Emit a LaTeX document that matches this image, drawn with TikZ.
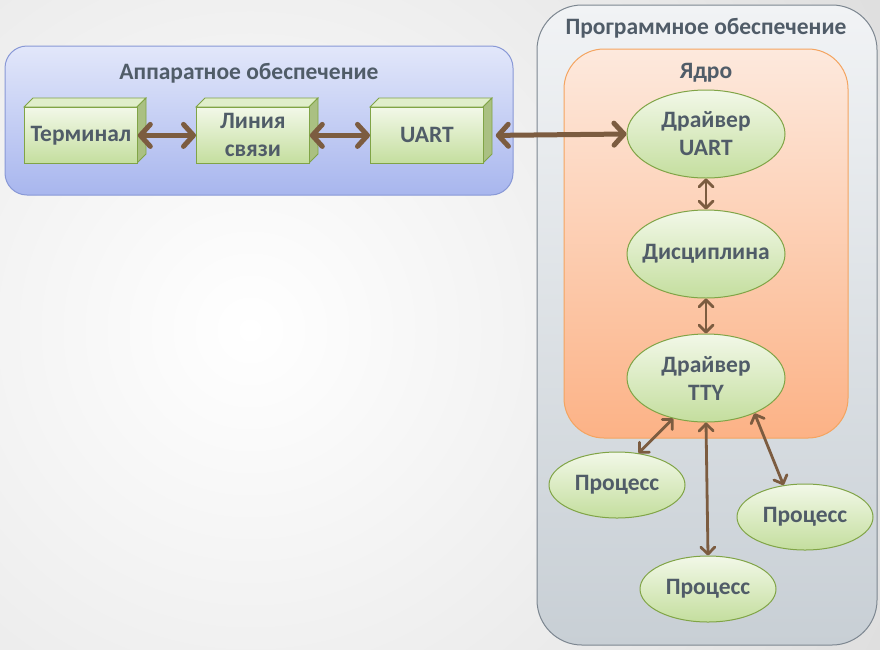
\documentclass[tikz,border=0pt]{standalone}
\usepackage{fontspec}
\setmainfont{Carlito}
\usetikzlibrary{shapes.geometric,arrows.meta}
\definecolor{txt}{RGB}{80,92,104}
\definecolor{arr}{RGB}{124,92,64}
\definecolor{bggray}{RGB}{205,205,205}
\definecolor{hwtop}{RGB}{226,231,250}
\definecolor{hwbot}{RGB}{168,182,238}
\definecolor{hwline}{RGB}{136,152,214}
\definecolor{swtop}{RGB}{241,243,245}
\definecolor{swbot}{RGB}{200,207,213}
\definecolor{swline}{RGB}{124,134,144}
\definecolor{ktop}{RGB}{253,233,221}
\definecolor{kbot}{RGB}{252,178,134}
\definecolor{kline}{RGB}{244,164,96}
\definecolor{gtop}{RGB}{242,248,232}
\definecolor{gbot}{RGB}{196,222,158}
\definecolor{gline}{RGB}{128,164,70}
\definecolor{gface}{RGB}{224,238,202}
\definecolor{gside}{RGB}{170,192,130}
\tikzset{
  title/.style={text=txt},
  cubefront/.style={draw=gline, line width=0.8, top color=gtop, bottom color=gbot,
    text=txt, align=center, inner sep=0, minimum width=113, minimum height=56},
  oval/.style={ellipse, draw=gline, line width=1, top color=gtop, bottom color=gbot,
    text=txt, align=center, inner sep=0, minimum width=158, minimum height=88},
  proc/.style={oval, minimum width=136, minimum height=66},
  bigarr/.style={draw=arr, line width=5, {Straight Barb[round,length=10pt,width=22pt]}-{Straight Barb[round,length=10pt,width=22pt]}},
  smallarr/.style={draw=arr, line width=2.8, {Straight Barb[round,length=7pt,width=14pt]}-{Straight Barb[round,length=7pt,width=14pt]}}
}
\newcommand{\hwcube}[4]{
  \filldraw[draw=gline, line width=0.8, fill=gface] (#2,#3)--++(9,-9)--++(113,0)--++(-9,9)--cycle;
  \filldraw[draw=gline, line width=0.8, fill=gside] (#2+113,#3)--++(9,-9)--++(0,56)--++(-9,9)--cycle;
  \node[cubefront, anchor=north west] (#1) at (#2,#3) {#4};
}
\begin{document}
\begin{tikzpicture}[x=1pt, y=-1pt, font=\fontsize{23.5}{28}\selectfont\bfseries]
\useasboundingbox (0,0) rectangle (880,649);
\begin{scope}
  \clip (0,0) rectangle (880,649);
  \shade[inner color=white, outer color=bggray] (250,330) circle (1100);
\end{scope}
\draw[draw=hwline, line width=1, top color=hwtop, bottom color=hwbot, rounded corners=22] (5,46) rectangle (513,195);
\draw[draw=swline, line width=1, top color=swtop, bottom color=swbot, rounded corners=45] (537,5) rectangle (877,645);
\draw[draw=kline, line width=1, top color=ktop, bottom color=kbot, rounded corners=40] (564,49) rectangle (848,438);
\node[title] (hwtitle) at (249,73) {Аппаратное обеспечение};
\node[title] (swtitle) at (706,28) {Программное обеспечение};
\node[title] (ktitle) at (706,73) {Ядро};
\hwcube{term}{24}{107}{Терминал}
\hwcube{line}{196}{107}{Линия\\связи}
\hwcube{uart}{370}{107}{UART}
\node[oval] (drvuart) at (706,134) {Драйвер\\UART};
\node[oval, inner xsep=-14] (disc) at (706,254) {Дисциплина};
\node[oval] (drvtty) at (706,378) {Драйвер\\TTY};
\node[proc] (proc1) at (617,485) {Процесс};
\node[proc] (proc2) at (805,517) {Процесс};
\node[proc] (proc3) at (708,589) {Процесс};
\draw[bigarr] (term.east) -- (line.west);
\draw[bigarr] (line.east) -- (uart.west);
\draw[bigarr] ([xshift=12]uart.east) -- (drvuart.west);
\draw[smallarr] (drvuart) -- (disc);
\draw[smallarr] (disc) -- (drvtty);
\draw[smallarr] (drvtty.231) -- (proc1.56);
\draw[smallarr] (drvtty.south) -- (proc3.north);
\draw[smallarr] (drvtty.324) -- (proc2.124);
\end{tikzpicture}
\end{document}
